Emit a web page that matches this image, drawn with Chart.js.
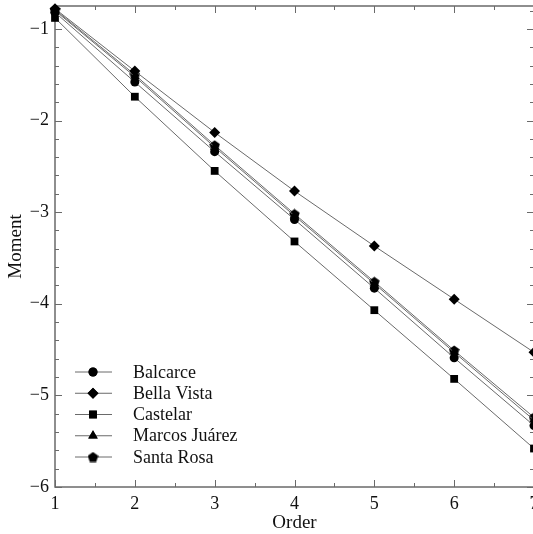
<!DOCTYPE html>
<html>
<head>
<meta charset="utf-8">
<script src="https://cdn.jsdelivr.net/npm/chart.js@4/dist/chart.umd.min.js"></script>
<style>
html,body{margin:0;padding:0;background:#fff;overflow:hidden;width:533px;height:534px;}
#wrap{width:545px;height:534px;}
</style>
</head>
<body>
<div id="wrap"><canvas id="c" width="545" height="534"></canvas></div>
<script>
// ---- data ----
const orders = [1, 2, 3, 4, 5, 6, 7];
const seriesNames = ['Balcarce', 'Bella Vista', 'Castelar', 'Marcos Juárez', 'Santa Rosa'];
const balcarce     = [-0.82, -1.58, -2.34, -3.08, -3.83, -4.59, -5.33];
const bellaVista   = [-0.78, -1.46, -2.13, -2.77, -3.37, -3.95, -4.53];
const castelar     = [-0.88, -1.74, -2.55, -3.32, -4.07, -4.82, -5.58];
const marcosJuarez = [-0.80, -1.52, -2.29, -3.04, -3.78, -4.53, -5.27];
const santaRosa    = [-0.79, -1.50, -2.27, -3.02, -3.76, -4.51, -5.24];
const xTicks = [1, 2, 3, 4, 5, 6, 7];
const xMinorTicks = [1.5, 2.5, 3.5, 4.5, 5.5, 6.5];
const yTicks = [-6, -5, -4, -3, -2, -1];
const yMinorTicks = [-5.8,-5.6,-5.4,-5.2,-4.8,-4.6,-4.4,-4.2,-3.8,-3.6,-3.4,-3.2,-2.8,-2.6,-2.4,-2.2,-1.8,-1.6,-1.4,-1.2,-0.8];

// pentagon marker
function makePentagon(size) {
  const cv = document.createElement('canvas');
  cv.width = size; cv.height = size;
  const g = cv.getContext('2d');
  const cx = size / 2, cy = size / 2 + 0.5, r = size / 2;
  g.beginPath();
  for (let i = 0; i < 5; i++) {
    const a = -Math.PI / 2 + i * 2 * Math.PI / 5;
    const px = cx + r * Math.cos(a), py = cy + r * Math.sin(a);
    if (i === 0) g.moveTo(px, py); else g.lineTo(px, py);
  }
  g.closePath();
  g.fillStyle = '#000';
  g.fill();
  return cv;
}
const pentagon = makePentagon(11);

const seriesValues = [balcarce, bellaVista, castelar, marcosJuarez, santaRosa];
const markerStyles = ['circle', 'rectRot', 'rect', 'triangle', pentagon];
const markerRadii = [4.5, 5.5, 5.5, 5.5, 5.5];

const LINE = '#6a6a6a';
const FONT = "'Liberation Serif', 'Times New Roman', serif";

const datasets = seriesNames.map((name, i) => ({
  label: name,
  data: orders.map((o, j) => ({ x: o, y: seriesValues[i][j] })),
  borderColor: LINE,
  borderWidth: 1,
  pointStyle: markerStyles[i],
  pointRadius: markerRadii[i],
  pointHoverRadius: markerRadii[i],
  pointBackgroundColor: '#000',
  pointBorderColor: '#000',
  pointBorderWidth: 0,
  fill: false,
  tension: 0,
  clip: false
}));

const frame = {
  id: 'frame',
  beforeDatasetsDraw(chart) {
    const { ctx, chartArea: a, scales: { x, y } } = chart;
    ctx.save();
    ctx.strokeStyle = LINE;
    ctx.lineWidth = 1.5;
    ctx.strokeRect(a.left, a.top, a.right - a.left, a.bottom - a.top);
    ctx.lineWidth = 1;
    const tick = (v, len, horiz) => {
      if (horiz) {
        const px = Math.round(x.getPixelForValue(v)) + 0.5;
        ctx.beginPath();
        ctx.moveTo(px, a.bottom); ctx.lineTo(px, a.bottom - len);
        ctx.moveTo(px, a.top); ctx.lineTo(px, a.top + len);
        ctx.stroke();
      } else {
        const py = Math.round(y.getPixelForValue(v)) + 0.5;
        ctx.beginPath();
        ctx.moveTo(a.left, py); ctx.lineTo(a.left + len, py);
        ctx.moveTo(a.right, py); ctx.lineTo(a.right - len, py);
        ctx.stroke();
      }
    };
    xTicks.forEach(v => tick(v, 7, true));
    xMinorTicks.forEach(v => tick(v, 4, true));
    yTicks.forEach(v => tick(v, 7, false));
    yMinorTicks.forEach(v => tick(v, 4, false));
    ctx.restore();
  },
  afterDatasetsDraw(chart) {
    const { ctx, chartArea: a } = chart;
    ctx.save();
    const x0 = a.left + 20, x1 = a.left + 57, xm = a.left + 38, xt = a.left + 78;
    const yStart = 372, step = 21.25;
    ctx.font = '18px ' + FONT;
    ctx.textBaseline = 'middle';
    ctx.fillStyle = '#111';
    chart.data.datasets.forEach((ds, i) => {
      const yy = yStart + i * step;
      ctx.strokeStyle = LINE;
      ctx.lineWidth = 1;
      ctx.beginPath(); ctx.moveTo(x0, yy); ctx.lineTo(x1, yy); ctx.stroke();
      Chart.helpers.drawPoint(ctx, {
        pointStyle: ds.pointStyle, radius: ds.pointRadius, rotation: 0, borderWidth: 0
      }, xm, yy);
      ctx.fillStyle = '#000';
      ctx.fill();
      ctx.fillStyle = '#111';
      ctx.fillText(ds.label, xt, yy + 1);
    });
    ctx.restore();
  }
};

new Chart(document.getElementById('c'), {
  type: 'line',
  data: { datasets },
  options: {
    responsive: false,
    devicePixelRatio: 1,
    animation: false,
    layout: { padding: { top: 6, right: 11, left: 0, bottom: 0 } },
    plugins: { legend: { display: false }, tooltip: { enabled: false } },
    scales: {
      x: {
        type: 'linear', min: 1, max: 7,
        afterBuildTicks: s => { s.ticks = xTicks.map(v => ({ value: v })); },
        afterFit: s => { s.height = 47; s.paddingLeft = 0; s.paddingRight = 0; },
        grid: { display: false, drawTicks: false },
        border: { display: false },
        ticks: { color: '#111', font: { family: FONT, size: 18 }, padding: 6, maxRotation: 0,
                 callback: v => String(v) },
        title: { display: true, text: 'Order', color: '#111', font: { family: FONT, size: 19 }, padding: { top: 0, bottom: 0 } }
      },
      y: {
        type: 'linear', min: -6, max: -0.75,
        afterBuildTicks: s => { s.ticks = yTicks.map(v => ({ value: v })); },
        afterFit: s => { s.width = 55; s.paddingTop = 0; s.paddingBottom = 0; },
        grid: { display: false, drawTicks: false },
        border: { display: false },
        ticks: { color: '#111', font: { family: FONT, size: 18 }, padding: 6,
                 callback: v => (v < 0 ? '\u2212' : '') + Math.abs(v) },
        title: { display: true, text: 'Moment', color: '#111', font: { family: FONT, size: 19 }, padding: { top: 5, bottom: 0 } }
      }
    }
  },
  plugins: [frame]
});
</script>
</body>
</html>
